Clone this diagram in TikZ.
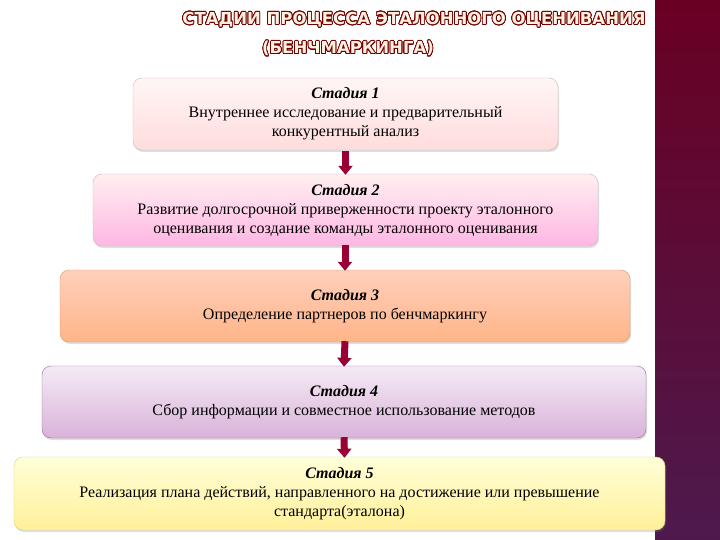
\documentclass[tikz,border=0pt]{standalone}
\usepackage{fontspec}
\setmainfont{Liberation Serif}
\newfontfamily\titlefont{DejaVu Sans}
\usepackage{contour}
\contourlength{0.8pt}
\contournumber{24}
\usetikzlibrary{arrows.meta,shadows}
\begin{document}
\begin{tikzpicture}[x=1pt,y=-1pt,
  stage/.style={draw=#1!70!black!60, rounded corners=9pt, minimum height=72pt, align=center, font=\fontsize{16}{19}\selectfont, inner sep=2pt, drop shadow={opacity=0.25,shadow xshift=1pt,shadow yshift=-2pt}},
  ttl/.style={font=\titlefont\bfseries\fontsize{16.5}{20}\selectfont},
  arr/.style={-{Triangle[width=14pt,length=9pt]}, line width=7pt, draw=red!50!black!80!magenta}]
\useasboundingbox (0,0) rectangle (720,540);
\fill[white] (0,0) rectangle (720,540);
\shade[top color=purple!55!black, bottom color=violet!45!black!90] (655,0) rectangle (720,540);
\node[ttl] (t1) at (414,20) {\contour{red!45!black}{\color{orange!12}СТАДИИ ПРОЦЕССА ЭТАЛОННОГО ОЦЕНИВАНИЯ}};
\node[ttl] (t2) at (348,49) {\contour{red!45!black}{\color{orange!12}(БЕНЧМАРКИНГА)}};
\node[stage=pink, top color=pink!15, bottom color=pink!55, minimum width=425pt] (s1) at (345.5,114) {\textit{\textbf{Стадия 1}}\\Внутреннее исследование и предварительный\\конкурентный анализ};
\node[stage=pink, top color=pink!25, bottom color=pink!70!magenta!60, minimum width=505pt] (s2) at (345.5,210) {\textit{\textbf{Стадия 2}}\\Развитие долгосрочной приверженности проекту эталонного\\оценивания и создание команды эталонного оценивания};
\node[stage=orange, top color=orange!25!pink!60, bottom color=orange!45!pink!80, minimum width=570pt] (s3) at (345,306) {\textit{\textbf{Стадия 3}}\\Определение партнеров по бенчмаркингу};
\node[stage=violet, top color=violet!8, bottom color=violet!30, minimum width=604pt] (s4) at (344,402) {\textit{\textbf{Стадия 4}}\\Сбор информации и совместное использование методов};
\node[stage=yellow, top color=yellow!15, bottom color=orange!30!yellow!40, minimum width=651pt, minimum height=73pt] (s5) at (339.5,493.5) {\textit{\textbf{Стадия 5}}\\Реализация плана действий, направленного на достижение или превышение\\стандарта(эталона)};
\draw[arr] (s1.south) ++(0,1) -- ([yshift=-1pt]s2.north);
\draw[arr] ([xshift=-0.5pt,yshift=1pt]s2.south) -- ([yshift=-1pt]s3.north);
\draw[arr] ([yshift=1pt]s3.south) -- ([yshift=-1pt]s4.north);
\draw[arr] ([yshift=1pt]s4.south) -- ([xshift=5pt,yshift=-1pt]s5.north);
\end{tikzpicture}
\end{document}
